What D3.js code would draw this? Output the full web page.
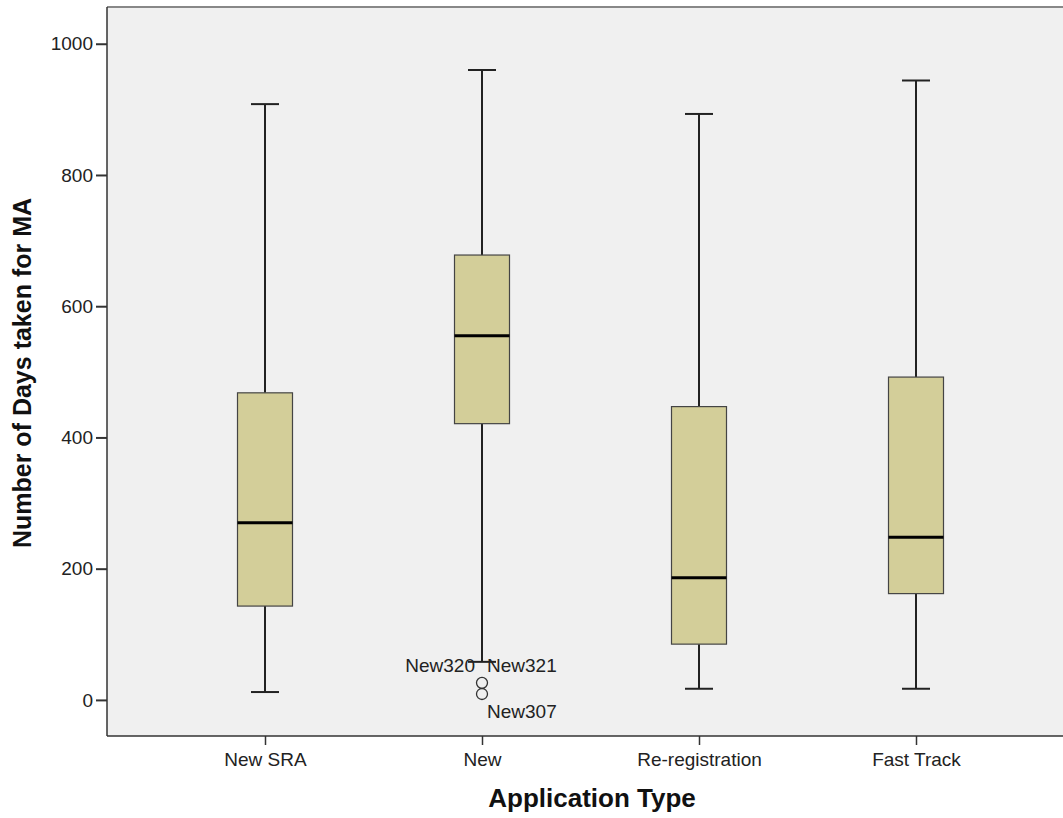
<!DOCTYPE html>
<html>
<head>
<meta charset="utf-8">
<script src="https://cdn.jsdelivr.net/npm/d3@7"></script>
<style>
  body { margin: 0; background: #fff; }
  svg { display: block; font-family: "Liberation Sans", Arial, sans-serif; }
</style>
</head>
<body>
<div id="chart"></div>
<script>
// data
const categories = ["New SRA", "New", "Re-registration", "Fast Track"];
const whiskerLow = [12, 58, 17, 17];
const q1 = [143, 421, 85, 162];
const medians = [270, 555, 186, 248];
const q3 = [468, 678, 447, 492];
const whiskerHigh = [908, 960, 893, 944];
const outliers = [
  { cat: "New", value: 26, labels: ["New320", "New321"] },
  { cat: "New", value: 9, labels: ["New307"] }
];
const yTicks = [0, 200, 400, 600, 800, 1000];

const colors = {
  bg: "#f0f0f0",
  box: "#d3ce99",
  stroke: "#222",
  frame: "#888"
};

const W = 1063, H = 818;
const plot = { left: 107, top: 7, right: 1075, bottom: 736 };
const fontTick = 19, fontTitle = 25;

const svg = d3.select("#chart").append("svg")
  .attr("width", W).attr("height", H);

const x = d3.scalePoint()
  .domain(categories)
  .range([265, 916]);

const y = d3.scaleLinear()
  .domain([-55, 1056])
  .range([plot.bottom, plot.top]);

// plot background + top frame
svg.append("rect")
  .attr("x", plot.left).attr("y", plot.top)
  .attr("width", plot.right - plot.left).attr("height", plot.bottom - plot.top)
  .attr("fill", colors.bg);
svg.append("line")
  .attr("x1", plot.left).attr("x2", W)
  .attr("y1", plot.top).attr("y2", plot.top)
  .attr("stroke", colors.frame).attr("stroke-width", 2);

// axes
const yAxis = d3.axisLeft(y).tickValues(yTicks).tickSize(11).tickPadding(3).tickFormat(d3.format("d"));
const gy = svg.append("g")
  .attr("transform", `translate(${plot.left},0)`)
  .call(yAxis);
gy.select(".domain").attr("d", `M0,${plot.top}V${plot.bottom}`).attr("stroke", "#333").attr("stroke-width", 1.5);
gy.selectAll(".tick line").attr("stroke", "#333").attr("stroke-width", 2);
gy.selectAll(".tick text").attr("font-size", fontTick).attr("fill", "#222")
  .attr("font-family", "Liberation Sans, Arial, sans-serif");

const xAxis = d3.axisBottom(x).tickSize(9).tickPadding(8);
const gx = svg.append("g")
  .attr("transform", `translate(0,${plot.bottom})`)
  .call(xAxis);
gx.select(".domain").attr("d", `M${plot.left},0H${W}`).attr("stroke", "#333").attr("stroke-width", 1.5);
gx.selectAll(".tick line").attr("stroke", "#333").attr("stroke-width", 1.5);
gx.selectAll(".tick text").attr("font-size", fontTick).attr("fill", "#222")
  .attr("font-family", "Liberation Sans, Arial, sans-serif");

// boxes
const boxW = 55, capW = 28;
const rows = categories.map((c, i) => ({
  c, lo: whiskerLow[i], q1: q1[i], med: medians[i], q3: q3[i], hi: whiskerHigh[i]
}));

const g = svg.append("g").attr("class", "boxes");
const box = g.selectAll("g").data(rows).enter().append("g");

box.append("line")
  .attr("x1", d => x(d.c)).attr("x2", d => x(d.c))
  .attr("y1", d => y(d.hi)).attr("y2", d => y(d.q3))
  .attr("stroke", colors.stroke).attr("stroke-width", 2);
box.append("line")
  .attr("x1", d => x(d.c)).attr("x2", d => x(d.c))
  .attr("y1", d => y(d.q1)).attr("y2", d => y(d.lo))
  .attr("stroke", colors.stroke).attr("stroke-width", 2);
box.append("line")
  .attr("x1", d => x(d.c) - capW / 2).attr("x2", d => x(d.c) + capW / 2)
  .attr("y1", d => y(d.hi)).attr("y2", d => y(d.hi))
  .attr("stroke", colors.stroke).attr("stroke-width", 2);
box.append("line")
  .attr("x1", d => x(d.c) - capW / 2).attr("x2", d => x(d.c) + capW / 2)
  .attr("y1", d => y(d.lo)).attr("y2", d => y(d.lo))
  .attr("stroke", colors.stroke).attr("stroke-width", 2);
box.append("rect")
  .attr("x", d => x(d.c) - boxW / 2)
  .attr("width", boxW)
  .attr("y", d => y(d.q3))
  .attr("height", d => y(d.q1) - y(d.q3))
  .attr("fill", colors.box)
  .attr("stroke", "#444").attr("stroke-width", 1.2);
box.append("line")
  .attr("x1", d => x(d.c) - boxW / 2).attr("x2", d => x(d.c) + boxW / 2)
  .attr("y1", d => y(d.med)).attr("y2", d => y(d.med))
  .attr("stroke", "#000").attr("stroke-width", 3);

// outliers
const out = svg.append("g").selectAll("g").data(outliers).enter().append("g");
out.append("circle")
  .attr("cx", d => x(d.cat)).attr("cy", d => y(d.value))
  .attr("r", 5.5)
  .attr("fill", "none").attr("stroke", "#333").attr("stroke-width", 1.3);
out.each(function (d) {
  const sel = d3.select(this);
  const cx = x(d.cat), cy = y(d.value);
  if (d.labels.length === 2) {
    sel.append("text").text(d.labels[0])
      .attr("x", cx - 7).attr("y", cy - 11).attr("text-anchor", "end")
      .attr("font-size", fontTick).attr("fill", "#222");
    sel.append("text").text(d.labels[1])
      .attr("x", cx + 5).attr("y", cy - 11)
      .attr("font-size", fontTick).attr("fill", "#222");
  } else {
    sel.append("text").text(d.labels[0])
      .attr("x", cx + 5).attr("y", cy + 24)
      .attr("font-size", fontTick).attr("fill", "#222");
  }
});

// titles
svg.append("text")
  .text("Application Type")
  .attr("x", 592).attr("y", 807)
  .attr("text-anchor", "middle")
  .attr("font-size", 26).attr("font-weight", "bold").attr("fill", "#111");

svg.append("text")
  .text("Number of Days taken for MA")
  .attr("transform", `translate(31,373) rotate(-90)`)
  .attr("text-anchor", "middle")
  .attr("font-size", fontTitle).attr("font-weight", "bold").attr("fill", "#111");
</script>
</body>
</html>
